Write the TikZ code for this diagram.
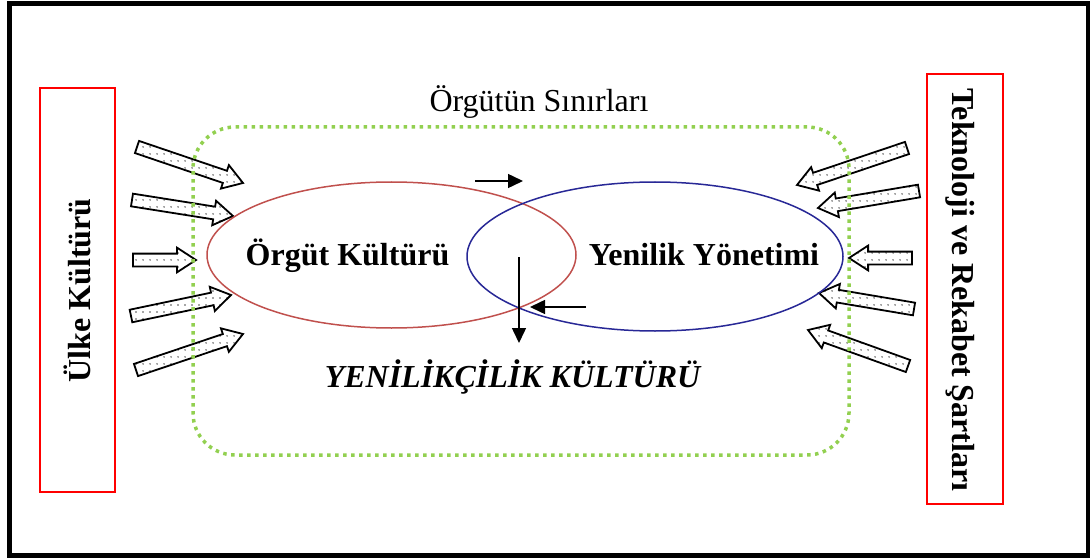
\documentclass[tikz,border=0pt]{standalone}
\usepackage{fontspec}
\setmainfont{Liberation Serif}
\usetikzlibrary{shapes.arrows,shapes.geometric,patterns.meta,arrows.meta,calc}

\definecolor{frameRed}{RGB}{255,0,0}
\definecolor{cultRed}{RGB}{192,80,77}
\definecolor{innoBlue}{RGB}{40,40,150}
\definecolor{limitGreen}{RGB}{146,208,80}

\tikzset{
  bigtext/.style={font=\fontsize{32}{36}\selectfont\bfseries, inner sep=0pt, anchor=base},
  sidebox/.style={draw=frameRed, line width=2pt},
  blockarrow/.style={single arrow, draw=black, line width=1.8pt,
    pattern={Dots[distance=6.5pt, radius=0.9pt]}, pattern color=black!70,
    single arrow head extend=6pt, single arrow tip angle=66,
    inner xsep=0pt, inner ysep=5.5pt, outer sep=0pt},
  flowarrow/.style={line width=1.5pt, -{Triangle[length=15pt,width=14pt]}},
}

% block arrow from a tail point to a tip point
\newcommand\blockarr[3]{%
  \path let \p1=#2, \p2=#3,
    \n1={atan2(\y2-\y1,\x2-\x1)},
    \n2={veclen(\x2-\x1,\y2-\y1)} in
    node[blockarrow, minimum height=\n2, rotate=\n1, anchor=tail] (#1) at (\p1) {};%
}

\begin{document}
\begin{tikzpicture}[x=1pt,y=-1pt]
\useasboundingbox (0,0) rectangle (1090,559);

% outer frame
\draw[line width=5pt] (9.5,3.5) rectangle (1088,555);

% side boxes
\node[sidebox, minimum width=75pt, minimum height=404pt, inner sep=0pt] (lbox) at (77.5,290) {};
\node[sidebox, minimum width=76pt, minimum height=430pt, inner sep=0pt] (rbox) at (965,289) {};
\node[bigtext, rotate=90] (ltext) at (90,290.5) {Ülke Kültürü};
\node[bigtext, rotate=-90] (rtext) at (952,290) {Teknoloji ve Rekabet Şartları};

% influences from the country culture
\coordinate (l1a) at (137,147); \coordinate (l1b) at (243,183);
\coordinate (l2a) at (132,200); \coordinate (l2b) at (233,216);
\coordinate (l3a) at (133,260); \coordinate (l3b) at (196,260);
\coordinate (l4a) at (131,316); \coordinate (l4b) at (231,295);
\coordinate (l5a) at (136,370); \coordinate (l5b) at (243,334);
\blockarr{la1}{(l1a)}{(l1b)}
\blockarr{la2}{(l2a)}{(l2b)}
\blockarr{la3}{(l3a)}{(l3b)}
\blockarr{la4}{(l4a)}{(l4b)}
\blockarr{la5}{(l5a)}{(l5b)}

% influences from technology and competition
\coordinate (r1a) at (907,148); \coordinate (r1b) at (797,185);
\coordinate (r2a) at (919,191); \coordinate (r2b) at (818,208);
\coordinate (r3a) at (912,258); \coordinate (r3b) at (849,258);
\coordinate (r4a) at (914,309); \coordinate (r4b) at (819,293);
\coordinate (r5a) at (908,366); \coordinate (r5b) at (808,330);
\blockarr{ra1}{(r1a)}{(r1b)}
\blockarr{ra2}{(r2a)}{(r2b)}
\blockarr{ra3}{(r3a)}{(r3b)}
\blockarr{ra4}{(r4a)}{(r4b)}
\blockarr{ra5}{(r5a)}{(r5b)}

% organisation boundary
\node[draw=limitGreen, line width=3.5pt, dash pattern=on 3.5pt off 4.5pt,
      rounded corners=42pt, minimum width=656pt, minimum height=328pt,
      inner sep=0pt] (limits) at (521,291) {};
\node[font=\fontsize{32}{36}\selectfont, inner sep=0pt, anchor=base] (limitlbl) at (539,112) {Örgütün Sınırları};

% the two overlapping fields
\node[draw=cultRed, line width=1.5pt, ellipse, minimum width=369pt, minimum height=146pt, inner sep=0pt] (org) at (391.5,255) {};
\node[draw=innoBlue, line width=1.5pt, ellipse, minimum width=376pt, minimum height=149pt, inner sep=0pt] (inno) at (655,256.5) {};
\node[bigtext] (orgtext) at (347.5,265) {Örgüt Kültürü};
\node[bigtext] (innotext) at (704,265) {Yenilik Yönetimi};
\node[bigtext, font=\fontsize{32}{36}\selectfont\bfseries\itshape] (result) at (512.5,387) {YENİLİKÇİLİK KÜLTÜRÜ};

% interaction arrows
\coordinate (f1a) at (475,181); \coordinate (f1b) at (523,181);
\coordinate (f2a) at (519,257); \coordinate (f2b) at (519,343);
\coordinate (f3a) at (586,307); \coordinate (f3b) at (530,307);
\draw[flowarrow] (f1a) -- (f1b);
\draw[flowarrow] (f2a) -- (f2b);
\draw[flowarrow] (f3a) -- (f3b);
\end{tikzpicture}
\end{document}
